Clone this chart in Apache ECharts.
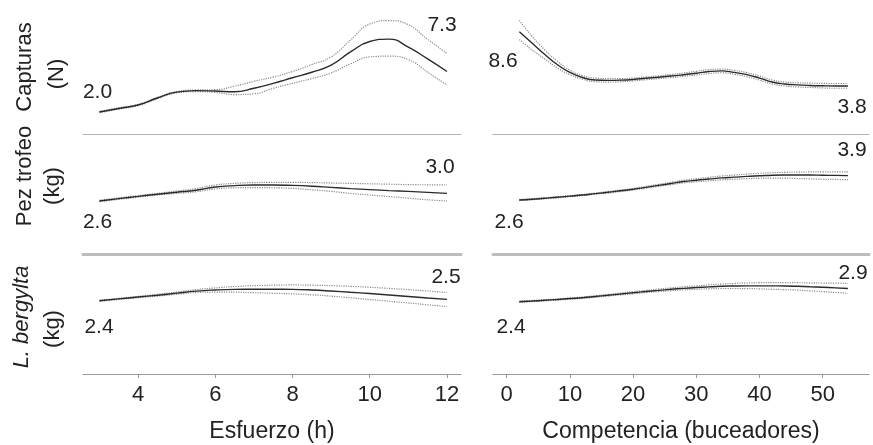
<!DOCTYPE html>
<html><head><meta charset="utf-8">
<script src="https://cdn.jsdelivr.net/npm/echarts@6/dist/echarts.min.js"></script>
<style>html,body{margin:0;padding:0;background:#fff}#c{width:873px;height:445px}</style>
</head><body><div id="c"></div>
<script>
// X values
const hoursX = [3,3.5,4,4.5,5,5.5,6,6.5,7,7.5,8,8.5,9,9.5,10,10.5,11,11.5,12];
const diversX = [2,4,6,8,10,12,14,16,18,20,22,24,26,28,30,32,34,36,38,40,42,44,46,48,50,52,54];
const hoursTicks = [4,6,8,10,12];
const diversTicks = [0,10,20,30,40,50];

// Capturas (N) vs Esfuerzo
const capH = [2.0,2.25,2.5,3.0,3.42,3.53,3.5,3.45,3.7,4.05,4.45,4.85,5.35,6.3,7.05,7.22,6.65,5.8,4.9];
const capHUp = [2.05,2.3,2.55,3.05,3.47,3.58,3.6,3.85,4.2,4.5,4.9,5.4,5.95,7.15,8.3,8.55,8.25,7.2,6.2];
const capHLo = [1.95,2.2,2.45,2.95,3.37,3.46,3.4,3.25,3.3,3.7,4.05,4.4,4.8,5.45,5.95,6.0,5.75,4.85,3.93];
// Capturas (N) vs Competencia
const capD = [8.6,7.6,6.6,5.7,5.0,4.55,4.33,4.3,4.32,4.38,4.48,4.58,4.68,4.8,4.93,5.08,5.14,5.0,4.8,4.5,4.15,3.98,3.9,3.85,3.82,3.8,3.8];
const capDUp = [9.6,8.2,7.0,6.0,5.2,4.72,4.5,4.45,4.45,4.5,4.6,4.7,4.82,4.95,5.1,5.25,5.3,5.18,4.98,4.68,4.33,4.15,4.08,4.05,4.03,4.02,4.02];
const capDLo = [7.9,7.0,6.2,5.4,4.8,4.4,4.18,4.15,4.18,4.25,4.35,4.45,4.55,4.65,4.77,4.9,4.97,4.84,4.62,4.32,3.98,3.8,3.72,3.67,3.63,3.6,3.6];
// Pez trofeo (kg) vs Esfuerzo
const trofH = [2.6,2.66,2.715,2.77,2.82,2.87,2.95,2.985,3.0,3.0,2.99,2.97,2.94,2.91,2.885,2.86,2.84,2.815,2.79];
const trofHUp = [2.62,2.68,2.735,2.79,2.85,2.91,3.0,3.04,3.06,3.065,3.065,3.06,3.05,3.04,3.03,3.02,3.01,3.005,3.0];
const trofHLo = [2.58,2.64,2.695,2.75,2.79,2.83,2.9,2.93,2.935,2.93,2.915,2.88,2.84,2.79,2.75,2.71,2.67,2.63,2.6];
// Pez trofeo (kg) vs Competencia
const trofD = [2.6,2.64,2.69,2.74,2.8,2.86,2.93,3.0,3.08,3.16,3.26,3.36,3.46,3.56,3.63,3.69,3.75,3.79,3.83,3.86,3.89,3.9,3.9,3.9,3.89,3.88,3.87];
const trofDUp = [2.63,2.67,2.72,2.77,2.83,2.89,2.96,3.04,3.12,3.2,3.31,3.41,3.52,3.63,3.71,3.78,3.85,3.9,3.95,3.99,4.02,4.04,4.05,4.06,4.06,4.07,4.07];
const trofDLo = [2.57,2.61,2.66,2.71,2.77,2.83,2.9,2.96,3.04,3.12,3.21,3.31,3.4,3.49,3.55,3.6,3.65,3.68,3.71,3.73,3.74,3.74,3.72,3.7,3.68,3.67,3.66];
// L. bergylta (kg) vs Esfuerzo
const bergH = [2.4,2.416,2.432,2.448,2.466,2.484,2.494,2.499,2.5,2.5,2.499,2.494,2.485,2.474,2.463,2.45,2.437,2.424,2.412];
const bergHUp = [2.405,2.421,2.438,2.456,2.476,2.497,2.512,2.524,2.532,2.536,2.538,2.536,2.532,2.526,2.518,2.508,2.497,2.485,2.472];
const bergHLo = [2.395,2.411,2.426,2.44,2.456,2.471,2.476,2.475,2.47,2.465,2.46,2.452,2.44,2.425,2.41,2.395,2.38,2.364,2.348];
// L. bergylta (kg) vs Competencia
const bergD = [2.4,2.42,2.445,2.47,2.5,2.527,2.565,2.605,2.645,2.686,2.725,2.76,2.795,2.825,2.85,2.872,2.89,2.9,2.905,2.905,2.903,2.9,2.89,2.875,2.86,2.84,2.82];
const bergDUp = [2.42,2.44,2.465,2.49,2.52,2.55,2.59,2.63,2.675,2.72,2.76,2.8,2.84,2.875,2.905,2.935,2.96,2.98,2.995,3.005,3.01,3.01,3.005,3.0,2.995,2.99,2.985];
const bergDLo = [2.38,2.4,2.425,2.45,2.48,2.505,2.54,2.58,2.615,2.65,2.69,2.72,2.75,2.775,2.795,2.81,2.82,2.82,2.815,2.81,2.795,2.785,2.77,2.745,2.72,2.695,2.67];

// Range labels (min/max of fitted curve) per panel
const rangeLabels = [["2.0","7.3"],["8.6","3.8"],["2.6","3.0"],["2.6","3.9"],["2.4","2.5"],["2.4","2.9"]];
const rowTitles = ["Capturas","Pez trofeo","L. bergylta"];
const rowUnits = ["(N)","(kg)","(kg)"];
const xNames = ["Esfuerzo (h)","Competencia (buceadores)"];

const FONT = "'Liberation Sans', Arial, sans-serif";
const panels = [
  {x: hoursX, fit: capH, up: capHUp, lo: capHLo, ymin: 0.424, ymax: 9.02},
  {x: diversX, fit: capD, up: capDUp, lo: capDLo, ymin: -0.444, ymax: 10.166},
  {x: hoursX, fit: trofH, up: trofHUp, lo: trofHLo, ymin: 1.275, ymax: 4.275},
  {x: diversX, fit: trofD, up: trofDUp, lo: trofDLo, ymin: -0.2125, ymax: 6.0375},
  {x: hoursX, fit: bergH, up: bergHUp, lo: bergHLo, ymin: 1.757, ymax: 2.8096},
  {x: diversX, fit: bergD, up: bergDUp, lo: bergDLo, ymin: 0.0975, ymax: 3.919}
];
const rowTop = [14, 134, 254];
const colLeft = [83, 493];
const colWidth = [378, 376];
const xRange = [[2.575, 12.363], [-2.17, 57.33]];
const sepStyle = [{color:'#b4b4b4', width:1.2}, {color:'#bdbdbd', width:3}, {color:'#9a9a9a', width:1}];

const grids = [], xAxes = [], yAxes = [], series = [];
panels.forEach((p, i) => {
  const r = Math.floor(i / 2), c = i % 2;
  grids.push({left: colLeft[c], top: rowTop[r], width: colWidth[c], height: 120});
  const bottom = r === 2;
  xAxes.push({
    type: 'value', gridIndex: i, min: xRange[c][0], max: xRange[c][1],
    axisLine: {show: true, onZero: false, lineStyle: sepStyle[r]},
    axisTick: {show: bottom, length: 4, lineStyle: {color: '#9a9a9a'}, customValues: c === 0 ? hoursTicks : diversTicks},
    axisLabel: {show: bottom, fontSize: 22, color: '#222', fontFamily: FONT, margin: 10, customValues: c === 0 ? hoursTicks : diversTicks},
    splitLine: {show: false},
    name: bottom ? xNames[c] : '', nameLocation: 'middle', nameGap: 46,
    nameTextStyle: {fontSize: 23, color: '#222', fontFamily: FONT}
  });
  yAxes.push({type: 'value', gridIndex: i, min: p.ymin, max: p.ymax, show: false, splitLine: {show: false}});
  const pts = arr => p.x.map((x, k) => [x, arr[k]]);
  series.push({type: 'line', xAxisIndex: i, yAxisIndex: i, data: pts(p.up), smooth: true, symbol: 'none',
    lineStyle: {color: '#8a8a8a', width: 1.2, type: 'dotted'}, silent: true});
  series.push({type: 'line', xAxisIndex: i, yAxisIndex: i, data: pts(p.lo), smooth: true, symbol: 'none',
    lineStyle: {color: '#8a8a8a', width: 1.2, type: 'dotted'}, silent: true});
  series.push({type: 'line', xAxisIndex: i, yAxisIndex: i, data: pts(p.fit), smooth: true, symbol: 'none',
    lineStyle: {color: '#2a2a2a', width: 1.4}, silent: true});
});

// text annotations (label positions)
const labelPos = [
  [[97.5, 92.5], [442, 25]],
  [[503, 61], [852, 107.5]],
  [[97.5, 222.5], [440, 167.5]],
  [[509, 222.5], [852, 150.5]],
  [[99, 327.5], [446, 277.5]],
  [[511, 327.5], [853, 273.5]]
];
const graphic = [];
rangeLabels.forEach((pair, i) => {
  pair.forEach((t, j) => {
    graphic.push({type: 'text', x: labelPos[i][j][0], y: labelPos[i][j][1],
      style: {text: t, font: '21px ' + FONT, fill: '#222', textAlign: 'center', textVerticalAlign: 'middle'}});
  });
});
const titlePos = [[25, 67], [25, 176], [22, 317]];
const unitPos = [[57, 74], [53, 186], [53, 329]];
rowTitles.forEach((t, r) => {
  graphic.push({type: 'text', x: titlePos[r][0], y: titlePos[r][1], rotation: Math.PI / 2,
    style: {text: t, font: (r === 2 ? 'italic ' : '') + '22px ' + FONT, fill: '#222', textAlign: 'center', textVerticalAlign: 'middle'}});
  graphic.push({type: 'text', x: unitPos[r][0], y: unitPos[r][1], rotation: Math.PI / 2,
    style: {text: rowUnits[r], font: '22px ' + FONT, fill: '#222', textAlign: 'center', textVerticalAlign: 'middle'}});
});

const chart = echarts.init(document.getElementById('c'), null, {renderer: 'canvas'});
chart.setOption({
  animation: false,
  backgroundColor: '#fff',
  grid: grids, xAxis: xAxes, yAxis: yAxes, series: series, graphic: graphic
});
</script></body></html>
